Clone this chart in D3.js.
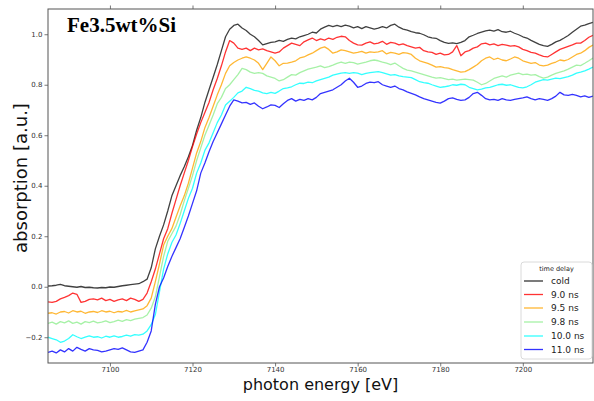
<!DOCTYPE html>
<html><head><meta charset="utf-8">
<script src="https://cdn.jsdelivr.net/npm/d3@7"></script>
<style>body{margin:0;background:#fff}svg{display:block}</style>
</head><body>
<svg id="c" width="594" height="401"></svg>
<script>
// photon energy grid [eV], one sample per eV
const energyStart = 7085, energyEnd = 7217;
const energies = d3.range(energyStart, energyEnd + 1);

const seriesNames = ["cold", "9.0 ns", "9.5 ns", "9.8 ns", "10.0 ns", "11.0 ns"];
const seriesColors = ["black", "red", "orange", "lightgreen", "cyan", "blue"];

const cold = [
0.003,0.004,0.006,0.009,0.004,0.002,0.0,-0.002,0.001,-0.003,
-0.002,-0.004,-0.005,-0.003,-0.004,-0.001,-0.002,0.001,0.004,0.006,
0.008,0.01,0.012,0.02,0.03,0.075,0.15,0.2,0.245,0.3,
0.36,0.4,0.44,0.475,0.515,0.56,0.62,0.67,0.73,0.78,
0.83,0.88,0.935,0.99,1.02,1.035,1.04,1.025,1.015,1.0,
0.99,0.975,0.958,0.963,0.968,0.97,0.976,0.972,0.98,0.985,
0.982,0.99,0.995,1.0,1.008,1.005,1.02,1.028,1.035,1.03,
1.035,1.03,1.036,1.032,1.025,1.03,1.022,1.03,1.025,1.02,
1.024,1.03,1.025,1.035,1.04,1.028,1.02,1.016,1.01,1.006,
1.004,0.998,0.99,0.986,0.984,0.975,0.968,0.964,0.966,0.963,
0.968,0.975,0.99,0.996,1.003,1.008,1.013,1.016,1.012,1.018,
1.01,1.008,1.012,1.004,0.998,0.99,0.985,0.976,0.968,0.96,
0.955,0.952,0.96,0.97,0.976,0.985,0.995,1.008,1.02,1.032,
1.036,1.042,1.047];

const ns90 = [
-0.06,-0.062,-0.058,-0.048,-0.042,-0.035,-0.025,-0.03,-0.062,-0.058,
-0.05,-0.048,-0.052,-0.045,-0.055,-0.05,-0.058,-0.052,-0.048,-0.055,
-0.045,-0.05,-0.058,-0.05,-0.025,0.02,0.07,0.13,0.19,0.23,
0.29,0.345,0.4,0.45,0.5,0.555,0.605,0.65,0.69,0.73,
0.78,0.825,0.875,0.93,0.975,0.965,0.945,0.94,0.945,0.935,
0.945,0.938,0.942,0.935,0.93,0.925,0.93,0.945,0.955,0.965,
0.96,0.955,0.97,0.978,0.985,0.975,0.982,0.977,0.985,0.98,
0.988,0.992,0.99,0.975,0.965,0.958,0.957,0.965,0.97,0.962,
0.965,0.972,0.96,0.968,0.965,0.958,0.962,0.955,0.95,0.945,
0.948,0.935,0.93,0.928,0.92,0.925,0.918,0.92,0.93,0.955,
0.915,0.93,0.935,0.945,0.95,0.962,0.965,0.958,0.962,0.955,
0.96,0.957,0.953,0.955,0.95,0.94,0.935,0.928,0.925,0.918,
0.912,0.91,0.92,0.93,0.94,0.946,0.952,0.958,0.965,0.965,
0.975,0.988,0.996];

const ns95 = [
-0.105,-0.103,-0.108,-0.1,-0.098,-0.104,-0.095,-0.1,-0.097,-0.105,
-0.1,-0.098,-0.102,-0.095,-0.1,-0.097,-0.103,-0.098,-0.1,-0.094,
-0.1,-0.096,-0.092,-0.088,-0.075,-0.045,0.02,0.09,0.165,0.2,
0.23,0.275,0.32,0.36,0.41,0.47,0.53,0.575,0.63,0.67,
0.715,0.76,0.8,0.845,0.875,0.888,0.898,0.905,0.91,0.905,
0.898,0.885,0.86,0.885,0.91,0.895,0.875,0.885,0.886,0.89,
0.895,0.906,0.91,0.918,0.925,0.935,0.945,0.95,0.94,0.925,
0.93,0.938,0.935,0.93,0.925,0.928,0.932,0.925,0.93,0.928,
0.93,0.935,0.922,0.928,0.925,0.92,0.927,0.925,0.92,0.905,
0.895,0.89,0.885,0.878,0.87,0.872,0.868,0.866,0.86,0.855,
0.85,0.852,0.86,0.87,0.88,0.895,0.905,0.91,0.9,0.905,
0.898,0.895,0.902,0.91,0.905,0.895,0.89,0.885,0.888,0.878,
0.875,0.878,0.885,0.89,0.898,0.895,0.9,0.91,0.92,0.925,
0.935,0.948,0.957];

const ns98 = [
-0.145,-0.14,-0.148,-0.138,-0.143,-0.135,-0.145,-0.14,-0.148,-0.138,
-0.142,-0.136,-0.143,-0.14,-0.135,-0.142,-0.138,-0.132,-0.137,-0.13,
-0.134,-0.128,-0.125,-0.122,-0.112,-0.085,-0.04,0.04,0.12,0.18,
0.21,0.24,0.285,0.34,0.39,0.44,0.5,0.55,0.6,0.64,
0.68,0.725,0.75,0.785,0.8,0.82,0.84,0.865,0.86,0.85,
0.845,0.848,0.845,0.835,0.83,0.825,0.815,0.82,0.83,0.84,
0.838,0.848,0.855,0.862,0.866,0.87,0.875,0.868,0.872,0.878,
0.885,0.89,0.885,0.89,0.888,0.882,0.886,0.89,0.895,0.898,
0.895,0.89,0.886,0.88,0.886,0.875,0.865,0.858,0.855,0.85,
0.845,0.84,0.835,0.83,0.826,0.828,0.824,0.82,0.822,0.818,
0.82,0.822,0.82,0.818,0.81,0.8,0.805,0.815,0.825,0.83,
0.835,0.83,0.838,0.842,0.846,0.84,0.842,0.838,0.84,0.832,
0.826,0.83,0.838,0.845,0.85,0.855,0.862,0.87,0.878,0.876,
0.885,0.895,0.906];

const ns100 = [
-0.2,-0.205,-0.21,-0.22,-0.215,-0.205,-0.19,-0.198,-0.205,-0.2,
-0.195,-0.2,-0.198,-0.203,-0.196,-0.2,-0.195,-0.2,-0.197,-0.192,
-0.196,-0.19,-0.192,-0.188,-0.175,-0.15,-0.11,-0.02,0.07,0.13,
0.175,0.205,0.25,0.3,0.35,0.39,0.45,0.49,0.54,0.57,
0.61,0.65,0.68,0.72,0.735,0.75,0.768,0.775,0.79,0.785,
0.778,0.775,0.768,0.765,0.77,0.766,0.775,0.785,0.788,0.792,
0.8,0.806,0.805,0.81,0.808,0.815,0.82,0.825,0.83,0.838,
0.842,0.846,0.848,0.845,0.848,0.846,0.84,0.845,0.848,0.85,
0.852,0.848,0.843,0.838,0.84,0.835,0.832,0.83,0.828,0.82,
0.812,0.808,0.806,0.8,0.795,0.79,0.792,0.795,0.8,0.798,
0.802,0.8,0.79,0.785,0.78,0.783,0.788,0.79,0.795,0.8,
0.802,0.798,0.8,0.795,0.79,0.788,0.792,0.8,0.81,0.815,
0.82,0.818,0.822,0.826,0.824,0.828,0.832,0.838,0.846,0.85,
0.855,0.862,0.87];

const ns110 = [
-0.26,-0.255,-0.262,-0.25,-0.258,-0.245,-0.255,-0.24,-0.248,-0.255,
-0.245,-0.25,-0.252,-0.258,-0.255,-0.25,-0.245,-0.248,-0.242,-0.25,
-0.258,-0.26,-0.255,-0.25,-0.22,-0.175,-0.07,0.0,0.035,0.08,
0.12,0.155,0.19,0.235,0.28,0.33,0.38,0.45,0.49,0.535,
0.575,0.61,0.645,0.68,0.715,0.74,0.735,0.728,0.73,0.722,
0.728,0.715,0.705,0.712,0.72,0.718,0.71,0.725,0.738,0.745,
0.735,0.742,0.738,0.745,0.74,0.75,0.765,0.77,0.775,0.78,
0.79,0.8,0.815,0.826,0.81,0.79,0.795,0.805,0.81,0.808,
0.812,0.8,0.795,0.79,0.795,0.785,0.78,0.772,0.766,0.76,
0.752,0.745,0.74,0.735,0.73,0.727,0.735,0.745,0.748,0.742,
0.738,0.74,0.75,0.765,0.77,0.758,0.745,0.74,0.742,0.738,
0.745,0.74,0.738,0.742,0.745,0.748,0.752,0.745,0.74,0.745,
0.742,0.738,0.745,0.755,0.77,0.76,0.758,0.762,0.758,0.752,
0.756,0.75,0.755];

const xTicks = [7100, 7120, 7140, 7160, 7180, 7200];
const yTicks = [-0.2, 0.0, 0.2, 0.4, 0.6, 0.8, 1.0];

const allSeries = [cold, ns90, ns95, ns98, ns100, ns110];

const m = {left: 48, top: 9, right: 593, bottom: 363};
const svg = d3.select("#c");

const x = d3.scaleLinear().domain([energyStart, energyEnd]).range([m.left, m.right]);
const y = d3.scaleLinear().domain([-0.302, 1.100]).range([m.bottom, m.top]);

svg.append("defs").append("clipPath").attr("id","clip").append("rect")
  .attr("x", m.left).attr("y", m.top).attr("width", m.right-m.left).attr("height", m.bottom-m.top);

const line = d3.line().x((d,i)=>x(energies[i])).y(d=>y(d));
const gLines = svg.append("g").attr("clip-path","url(#clip)");
allSeries.forEach((s,k)=>{
  gLines.append("path").datum(s).attr("d", line)
    .attr("fill","none").attr("stroke", seriesColors[k])
    .attr("stroke-width", 1.3).attr("stroke-opacity", k===0?0.75:0.8)
    .attr("stroke-linejoin","round");
});

const fmtY = d => d3.format(".1f")(d).replace("-", "\u2212");
const axisColor = "#555";

const xAxis = svg.append("g").attr("transform",`translate(0,${m.bottom})`)
  .call(d3.axisBottom(x).tickValues(xTicks).tickFormat(d3.format("d")).tickSize(3.5).tickSizeOuter(0));
const xTop = svg.append("g").attr("transform",`translate(0,${m.top})`)
  .call(d3.axisTop(x).tickValues(xTicks).tickFormat("").tickSize(3.5).tickSizeOuter(0));
const yAxis = svg.append("g").attr("transform",`translate(${m.left},0)`)
  .call(d3.axisLeft(y).tickValues(yTicks).tickFormat(fmtY).tickSize(3.5).tickSizeOuter(0));

[xAxis, xTop, yAxis].forEach(g=>{
  g.select(".domain").remove();
  g.selectAll(".tick line").attr("stroke", axisColor).attr("stroke-width",0.8);
  g.selectAll(".tick text").attr("fill","#333").style("font-family","DejaVu Sans").style("font-size","7px");
});
xAxis.selectAll(".tick text").attr("dy","0.71em").attr("y", 4.5);
yAxis.selectAll(".tick text").attr("x", -5.5);

svg.append("rect").attr("x", m.left).attr("y", m.top)
  .attr("width", m.right-m.left).attr("height", m.bottom-m.top)
  .attr("fill","none").attr("stroke", axisColor).attr("stroke-width",1);

svg.append("text").attr("x", (m.left+m.right)/2).attr("y", 390)
  .attr("text-anchor","middle").style("font-family","DejaVu Sans").style("font-size","16px")
  .attr("fill","#111").text("photon energy [eV]");

svg.append("text").attr("transform",`translate(27,178) rotate(-90)`)
  .attr("text-anchor","middle").style("font-family","DejaVu Sans").style("font-size","18px")
  .attr("fill","#111").text("absorption [a.u.]");

svg.append("text").attr("x", 67).attr("y", 32)
  .style("font-family","Liberation Serif").style("font-weight","bold").style("font-size","21px")
  .attr("fill","#000").text("Fe3.5wt%Si");

// legend
const lg = svg.append("g");
lg.append("rect").attr("x",521).attr("y",262).attr("width",71).attr("height",97)
  .attr("rx",3).attr("fill","white").attr("fill-opacity",0.85).attr("stroke","#d0d0d0").attr("stroke-width",0.8);
lg.append("text").attr("x",556.5).attr("y",271).attr("text-anchor","middle")
  .style("font-family","DejaVu Sans").style("font-size","6.5px").attr("fill","#222").text("time delay");
const legY = [281, 294.5, 308, 322, 336, 349.5];
seriesNames.forEach((n,k)=>{
  lg.append("line").attr("x1",524).attr("x2",543).attr("y1",legY[k]).attr("y2",legY[k])
    .attr("stroke",seriesColors[k]).attr("stroke-width",1.3).attr("stroke-opacity",0.8);
  lg.append("text").attr("x",551).attr("y",legY[k]).attr("dy","0.35em")
    .style("font-family","DejaVu Sans").style("font-size","9px").attr("fill","#222").text(n);
});
</script>
</body></html>
